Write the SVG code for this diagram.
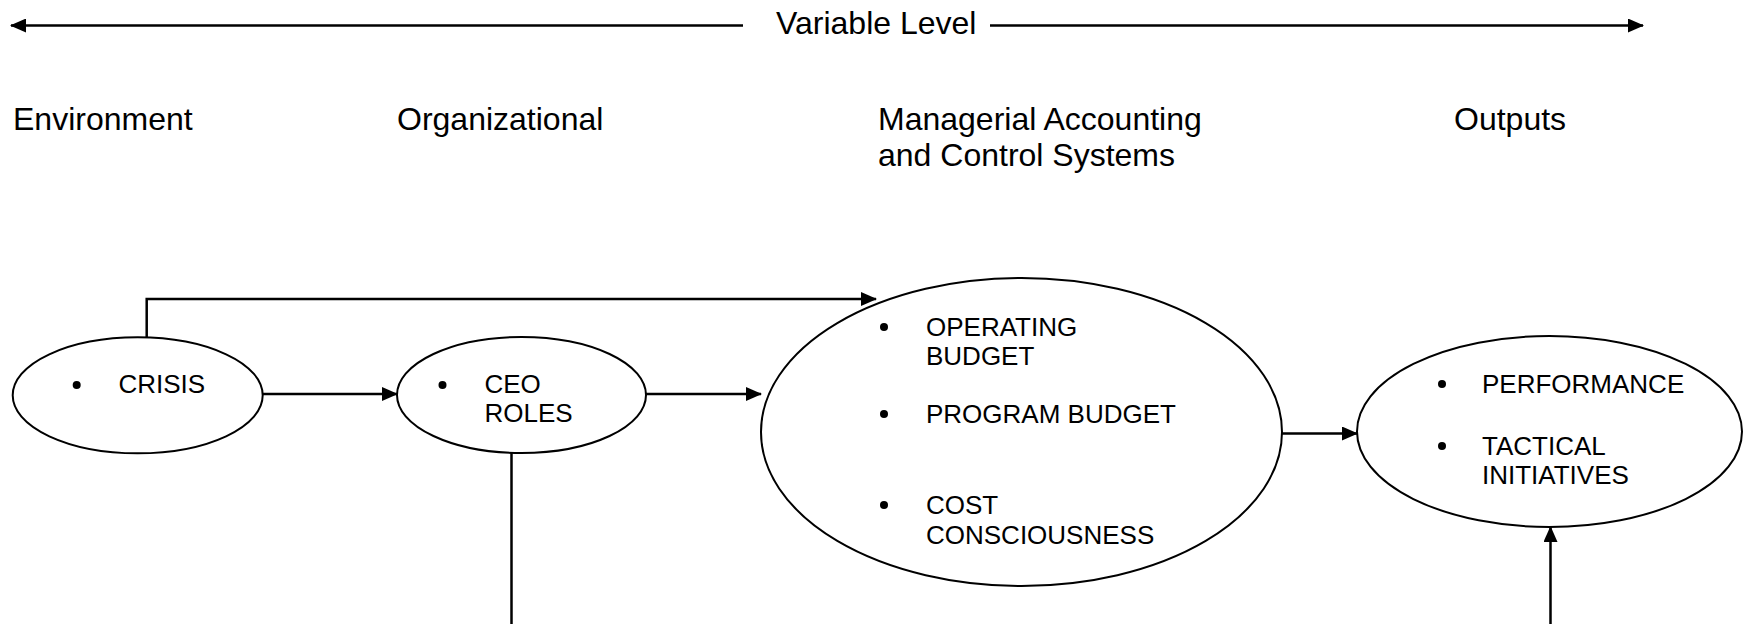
<svg xmlns="http://www.w3.org/2000/svg" width="1743" height="624" viewBox="0 0 1743 624">
<style>
.hd{font-family:"Liberation Sans",Arial,sans-serif;font-size:32px;fill:#000}
.bt{font-family:"Liberation Sans",Arial,sans-serif;font-size:26px;fill:#000}
.el{fill:#fff;stroke:#000;stroke-width:2}
.cn{fill:none;stroke:#000;stroke-width:2.5}
.dot{fill:#000}
</style>
<defs>
<marker id="ah" markerUnits="userSpaceOnUse" markerWidth="16" markerHeight="14" refX="15" refY="7" orient="auto-start-reverse">
<path d="M0,0 L16,7 L0,14 Z" fill="#000"/>
</marker>
</defs>
<g id="header">
<text class="hd" x="776" y="34">Variable Level</text>
<text class="hd" x="13" y="130">Environment</text>
<text class="hd" x="397" y="130">Organizational</text>
<text class="hd" x="878" y="130">Managerial Accounting</text>
<text class="hd" x="878" y="166">and Control Systems</text>
<text class="hd" x="1454" y="130">Outputs</text>
</g>
<g id="connectors">
<line class="cn" x1="743" y1="25.5" x2="11" y2="25.5" marker-end="url(#ah)"/>
<line class="cn" x1="990" y1="25.5" x2="1643" y2="25.5" marker-end="url(#ah)"/>
<polyline class="cn" points="146.7,337 146.7,299 876,299" marker-end="url(#ah)"/>
<line class="cn" x1="263" y1="394" x2="397" y2="394" marker-end="url(#ah)"/>
<line class="cn" x1="646" y1="394" x2="761" y2="394" marker-end="url(#ah)"/>
<line class="cn" x1="1282" y1="433.5" x2="1357" y2="433.5" marker-end="url(#ah)"/>
<line class="cn" x1="511.5" y1="452" x2="511.5" y2="624"/>
<line class="cn" x1="1550.5" y1="624" x2="1550.5" y2="527" marker-end="url(#ah)"/>
</g>
<g id="crisis">
<ellipse class="el" cx="137.7" cy="395.3" rx="125" ry="58"/>
<circle class="dot" cx="76.7" cy="385" r="4"/>
<text class="bt" x="118.5" y="393">CRISIS</text>
</g>
<g id="ceo">
<ellipse class="el" cx="521.5" cy="395" rx="124.5" ry="58"/>
<circle class="dot" cx="442.5" cy="385" r="4"/>
<text class="bt" x="484.5" y="393">CEO</text>
<text class="bt" x="484.5" y="422">ROLES</text>
</g>
<g id="macs">
<ellipse class="el" cx="1021.5" cy="432" rx="260.5" ry="154"/>
<circle class="dot" cx="884" cy="327" r="4"/>
<text class="bt" x="926" y="336">OPERATING</text>
<text class="bt" x="926" y="365">BUDGET</text>
<circle class="dot" cx="884" cy="414" r="4"/>
<text class="bt" x="926" y="423">PROGRAM BUDGET</text>
<circle class="dot" cx="884" cy="505" r="4"/>
<text class="bt" x="926" y="514">COST</text>
<text class="bt" x="926" y="544">CONSCIOUSNESS</text>
</g>
<g id="outputs">
<ellipse class="el" cx="1549.5" cy="431.5" rx="192.5" ry="95.5"/>
<circle class="dot" cx="1442" cy="384" r="4"/>
<text class="bt" x="1482" y="393">PERFORMANCE</text>
<circle class="dot" cx="1442" cy="446" r="4"/>
<text class="bt" x="1482" y="455">TACTICAL</text>
<text class="bt" x="1482" y="484">INITIATIVES</text>
</g>
</svg>
